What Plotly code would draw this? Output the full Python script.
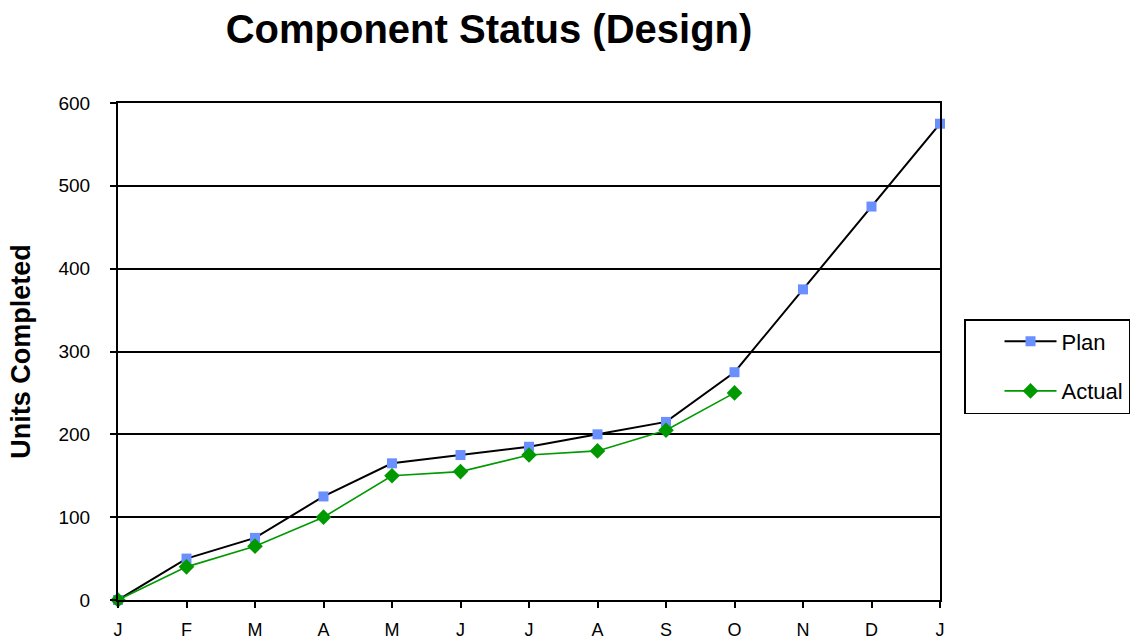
import plotly.graph_objects as go

# Month initials along the x axis (13 monthly checkpoints, Jan through Jan)
months = ["J", "F", "M", "A", "M", "J", "J", "A", "S", "O", "N", "D", "J"]

# Cumulative units completed
plan = [0, 50, 75, 125, 165, 175, 185, 200, 215, 275, 375, 475, 575]
actual = [0, 40, 65, 100, 150, 155, 175, 180, 205, 250]

x_plan = list(range(len(plan)))
x_actual = list(range(len(actual)))

font_family = "Liberation Sans, Arial, sans-serif"

fig = go.Figure()

fig.add_trace(go.Scatter(
    x=x_plan, y=plan, name="Plan", mode="lines+markers",
    line=dict(color="black", width=2),
    marker=dict(symbol="square", size=10, color="#6A8FFF"),
    cliponaxis=False, legendgroup="plan",
))
fig.add_trace(go.Scatter(
    x=x_actual, y=actual, name="Actual", mode="lines+markers",
    line=dict(color="#009900", width=1.6),
    marker=dict(symbol="diamond", size=12, color="#009900"),
    cliponaxis=False, legendgroup="actual",
))

fig.update_layout(
    width=1144, height=638,
    margin=dict(l=118, r=204, t=103, b=38, autoexpand=False),
    paper_bgcolor="white", plot_bgcolor="white",
    font=dict(family=font_family, color="black"),
    title=dict(
        text="<b>Component Status (Design)</b>",
        x=489 / 1144, xanchor="center", xref="container",
        y=1 - 29 / 638, yanchor="middle", yref="container",
        font=dict(size=40, family=font_family, color="black"),
    ),
    showlegend=True,
    legend=dict(
        x=(964 - 118) / 822, xanchor="left",
        y=(600 - 319) / 497, yanchor="top",
        bordercolor="black", borderwidth=1.5, bgcolor="white",
        font=dict(size=22, family=font_family, color="black"),
        tracegroupgap=18, itemwidth=52, indentation=34,
    ),
)

fig.update_xaxes(
    range=[0, 12], tickmode="array", tickvals=x_plan, ticktext=months,
    showline=True, linecolor="black", linewidth=2, mirror=True,
    ticks="outside", ticklen=6, tickwidth=1.5, tickcolor="black",
    showgrid=False, zeroline=False,
    tickfont=dict(size=18, family=font_family, color="black"),
    ticklabelstandoff=6,
)
fig.update_yaxes(
    range=[0, 600], dtick=100, tick0=0,
    showline=True, linecolor="black", linewidth=2, mirror=True,
    ticks="outside", ticklen=6, tickwidth=1.5, tickcolor="black",
    showgrid=True, gridcolor="black", gridwidth=1.5, zeroline=False,
    tickfont=dict(size=19, family=font_family, color="black"),
    ticklabelstandoff=16,
    title=dict(text="<b>Units Completed</b>", standoff=20,
               font=dict(size=27, family=font_family, color="black")),
)

fig.write_html("out.html")
